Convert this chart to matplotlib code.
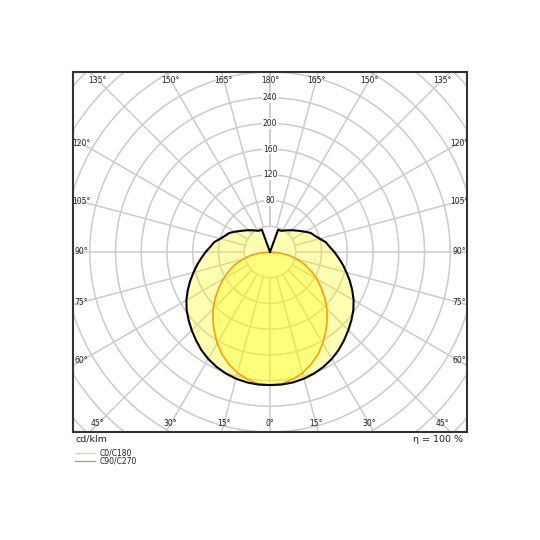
import numpy as np
import matplotlib
matplotlib.use('Agg')
import matplotlib.pyplot as plt
from matplotlib.lines import Line2D

# luminous intensity (cd/klm) vs. gamma angle (deg), symmetric planes
angles_c0 = [0, 5, 10, 15, 20, 25, 30, 35, 40, 45, 50, 55, 60, 65, 70, 75, 80, 85, 90]
cd_c0 = [207, 206, 201, 195, 186, 176, 164, 151, 138, 125, 111, 97, 84, 71, 58, 44, 30, 15, 0]

angles_c90 = [0, 5, 10, 15, 20, 25, 30, 35, 40, 45, 50, 55, 60, 65, 70, 75, 80, 85, 90,
              95, 100, 105, 110, 115, 120, 125, 130, 135, 140, 145, 150, 155, 160, 165,
              170, 175, 180]
cd_c90 = [207, 207, 206, 204, 201, 197, 192, 186, 179, 172, 165, 158, 150, 141, 132, 123,
          115, 107, 100, 93, 88, 80, 74, 70, 63, 57, 52, 48, 44, 41, 38, 37, 37, 0,
          0, 0, 0]

rings = [40, 80, 120, 160, 200, 240, 280, 320, 360, 400, 440]
ring_labels = [80, 120, 160, 200, 240]
spokes = np.arange(-180, 181, 15)

XL, YL = 306, 280


def to_xy(ang, val):
    # mirror one half-plane to get the full curve, 0 deg pointing down
    ang = np.asarray(ang, float)
    val = np.asarray(val, float)
    a = np.concatenate([-ang[::-1], ang[1:]])
    v = np.concatenate([val[::-1], val[1:]])
    t = np.radians(a)
    return v * np.sin(t), -v * np.cos(t)


fig = plt.figure(figsize=(5.4, 5.4), dpi=100)
ax = fig.add_axes([73 / 540, 1 - 432 / 540, 394 / 540, 360 / 540])
ax.set_xlim(-XL, XL)
ax.set_ylim(-YL, YL)
ax.set_xticks([])
ax.set_yticks([])
for s in ax.spines.values():
    s.set_color('#333333')
    s.set_linewidth(1.5)

grid_kw = dict(color='#cccccc', lw=1.1, zorder=1)
th = np.linspace(0, 2 * np.pi, 400)
for r in rings:
    ax.plot(r * np.cos(th), r * np.sin(th), **grid_kw)
for g in spokes:
    t = np.radians(g)
    ax.plot([40 * np.sin(t), 500 * np.sin(t)], [-40 * np.cos(t), -500 * np.cos(t)], **grid_kw)

# curves
x90, y90 = to_xy(angles_c90, cd_c90)
x0, y0 = to_xy(angles_c0, cd_c0)
ax.fill(x90, y90, color='#ffff00', alpha=0.3, lw=0, zorder=2)
ax.fill(x0, y0, color='#ffff00', alpha=0.3, lw=0, zorder=2)
ax.plot(x0, y0, color='#ff9f00', lw=1.2, zorder=3)
ax.plot(x90, y90, color='black', lw=1.5, zorder=4)

# ring values
for r in ring_labels:
    ax.text(0, r, str(r), fontsize=5.5, ha='center', va='center', color='#222222',
            bbox=dict(facecolor='white', edgecolor='none', pad=0.6), zorder=5)

# angle labels along the frame
ins = 12.5
W, H = XL - ins, YL - ins
for g in spokes:
    if g == -180:
        continue
    t = np.radians(g)
    s, c = np.sin(t), -np.cos(t)
    d = min(W / abs(s) if abs(s) > 1e-9 else 1e9, H / abs(c) if abs(c) > 1e-9 else 1e9)
    ax.text(d * s, d * c, '%d°' % abs(g), fontsize=5.5, ha='center', va='center',
            color='#222222', clip_on=True, zorder=5)

fig.text(76 / 540, 1 - 439.5 / 540, 'cd/klm', fontsize=6.8, ha='left', va='center', color='#222222')
fig.text(463 / 540, 1 - 439.5 / 540, 'η = 100 %', fontsize=6.8, ha='right', va='center', color='#222222')

fig.add_artist(Line2D([75 / 540, 95 / 540], [1 - 452.5 / 540] * 2, color='#ffcc88', lw=0.9))
fig.add_artist(Line2D([75 / 540, 95 / 540], [1 - 460.5 / 540] * 2, color='#999999', lw=0.9))
fig.text(100 / 540, 1 - 452.5 / 540, 'C0/C180', fontsize=5.5, ha='left', va='center', color='#222222')
fig.text(100 / 540, 1 - 460.5 / 540, 'C90/C270', fontsize=5.5, ha='left', va='center', color='#222222')

fig.savefig('out.png', dpi=100, facecolor='white')
